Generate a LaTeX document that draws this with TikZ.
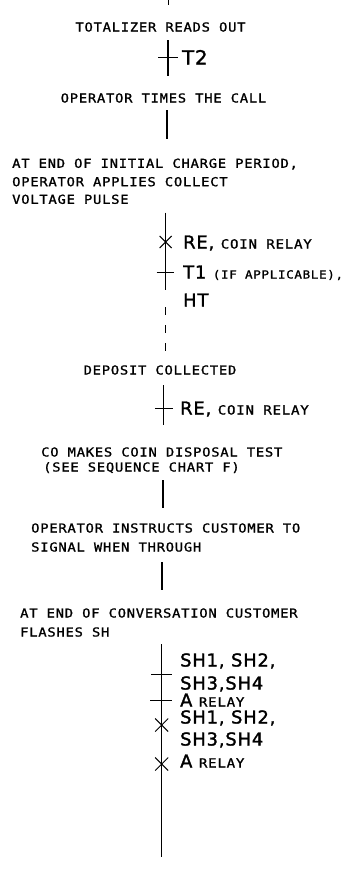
\documentclass[tikz,border=0pt]{standalone}
\usepackage{fontspec}
\setmainfont{DejaVu Sans Mono}
\newfontfamily\lettfont[LetterSpace=6,FakeStretch=1.12,FakeBold=1.2]{DejaVu Sans Mono}
\newfontfamily\labfont[LetterSpace=5,FakeBold=1.6]{DejaVu Sans}
\newcommand\smc[1]{{\lettfont\fontsize{12.6}{14}\selectfont #1}}
\newcommand\smd[1]{{\lettfont\fontsize{11.2}{13}\selectfont #1}}
\tikzset{
  txt/.style={inner sep=0pt, font=\lettfont\fontsize{12.35}{14}\selectfont, text height=9pt, text depth=0pt},
  lab/.style={inner sep=0pt, anchor=west, font=\labfont\fontsize{17.8}{20}\selectfont, text height=13pt, text depth=0pt},
  flow/.style={line width=1.2pt},
  tickline/.style={line width=1pt},
  dashflow/.style={line width=1.2pt, dash pattern=on 8pt off 10pt},
}
\begin{document}
\begin{tikzpicture}[x=1pt,y=-1pt]
\useasboundingbox (0,0) rectangle (347,876);

% top stub
\coordinate (a0) at (168.5,0);
\coordinate (a1) at (168.5,5);
\draw[flow] (a0) -- (a1);

\node[txt] (t1) at (160.5,27) {TOTALIZER READS OUT};

% T2 segment
\coordinate (b0) at (168,40);
\coordinate (b1) at (168,76);
\coordinate (k1) at (168,57.5);
\draw[flow] (b0) -- (b1);
\draw[tickline] ([xshift=-10pt]k1) -- ([xshift=10pt]k1);
\node[lab, font=\labfont\fontsize{19.5}{22}\selectfont, text height=14pt] (l1) at (182,57.5) {T2};

\node[txt] (t2) at (163.5,98) {OPERATOR TIMES THE CALL};

\coordinate (c0) at (167,110);
\coordinate (c1) at (167,139);
\draw[flow] (c0) -- (c1);

\node[txt, anchor=west] (t3a) at (12,163.3) {AT END OF INITIAL CHARGE PERIOD,};
\node[txt, anchor=west] (t3b) at (12,181.7) {OPERATOR APPLIES COLLECT};
\node[txt, anchor=west] (t3c) at (12,199.3) {VOLTAGE PULSE};

% RE / T1 segment
\coordinate (d0) at (165.7,212.5);
\coordinate (d1) at (165.7,290);
\coordinate (x1) at (165.7,242);
\coordinate (k2) at (165.7,272);
\coordinate (d2) at (165.7,307);
\coordinate (d3) at (165.7,353);
\draw[flow] (d0) -- (d1);
\draw[dashflow] (d2) -- (d3);
\draw[tickline] ([shift={(-6pt,-6pt)}]x1) -- ([shift={(6pt,6pt)}]x1);
\draw[tickline] ([shift={(-6pt,6pt)}]x1) -- ([shift={(6pt,-6pt)}]x1);
\draw[tickline] ([xshift=-9pt]k2) -- ([xshift=8.5pt]k2);
\node[lab] (l2) at (183,242) {RE, \smc{COIN RELAY}};
\node[lab] (l3) at (183,272) {T1 \smd{(IF APPLICABLE),}};
\node[lab] (l4) at (183,300) {HT};

\node[txt] (t4) at (160,370) {DEPOSIT COLLECTED};

\coordinate (e0) at (163.3,385);
\coordinate (e1) at (163.3,425);
\coordinate (k3) at (163.3,408);
\draw[flow] (e0) -- (e1);
\draw[tickline] ([xshift=-8.5pt]k3) -- ([xshift=9.5pt]k3);
\node[lab] (l5) at (180,408) {RE, \smc{COIN RELAY}};

\node[txt, anchor=west] (t5a) at (41,452) {CO MAKES COIN DISPOSAL TEST};
\node[txt, anchor=west] (t5b) at (43,467) {(SEE SEQUENCE CHART F)};

\coordinate (f0) at (163,480);
\coordinate (f1) at (163,508);
\draw[flow] (f0) -- (f1);

\node[txt, anchor=west] (t6a) at (31,528) {OPERATOR INSTRUCTS CUSTOMER TO};
\node[txt, anchor=west] (t6b) at (31,547) {SIGNAL WHEN THROUGH};

\coordinate (g0) at (162,562);
\coordinate (g1) at (162,590);
\draw[flow] (g0) -- (g1);

\node[txt, anchor=west] (t7a) at (20,613) {AT END OF CONVERSATION CUSTOMER};
\node[txt, anchor=west] (t7b) at (20,632) {FLASHES SH};

% final segment
\coordinate (h0) at (161.7,644);
\coordinate (h1) at (161.7,857);
\coordinate (k4) at (161.7,674);
\coordinate (k5) at (161.7,700);
\coordinate (x2) at (161.7,725);
\coordinate (x3) at (161.7,764);
\draw[flow] (h0) -- (h1);
\draw[tickline] ([xshift=-10.5pt]k4) -- ([xshift=10.5pt]k4);
\draw[tickline] ([xshift=-11.5pt]k5) -- ([xshift=10.5pt]k5);
\draw[tickline] ([shift={(-6.5pt,-6.5pt)}]x2) -- ([shift={(6.5pt,6.5pt)}]x2);
\draw[tickline] ([shift={(-6.5pt,6.5pt)}]x2) -- ([shift={(6.5pt,-6.5pt)}]x2);
\draw[tickline] ([shift={(-6.5pt,-6.5pt)}]x3) -- ([shift={(6.5pt,6.5pt)}]x3);
\draw[tickline] ([shift={(-6.5pt,6.5pt)}]x3) -- ([shift={(6.5pt,-6.5pt)}]x3);

\node[lab] (m1) at (180,660) {SH1, SH2,};
\node[lab] (m2) at (180,683) {SH3,SH4};
\node[lab] (m3) at (180,700) {A \smc{RELAY}};
\node[lab] (m4) at (180,717) {SH1, SH2,};
\node[lab] (m5) at (180,739) {SH3,SH4};
\node[lab] (m6) at (180,761) {A \smc{RELAY}};
\end{tikzpicture}
\end{document}
